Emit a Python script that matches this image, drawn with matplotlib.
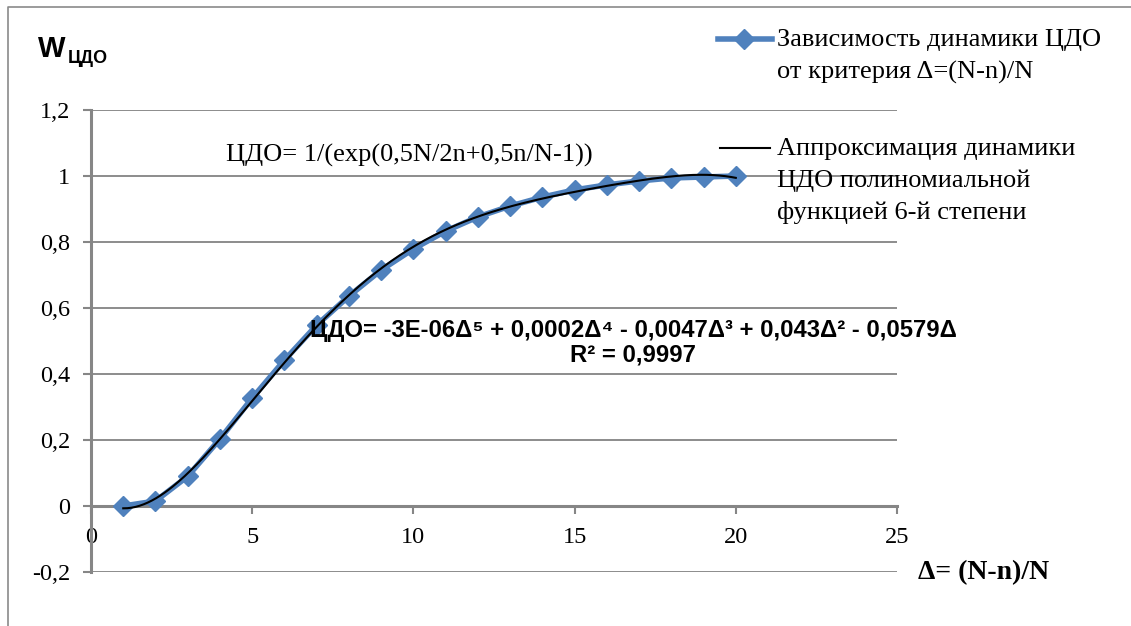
import numpy as np
import matplotlib
matplotlib.use("Agg")
import matplotlib.pyplot as plt
from matplotlib.lines import Line2D
from matplotlib.ticker import FuncFormatter

# ---- data ----
delta = [1, 2, 3, 4, 5, 6, 7, 8, 9, 10, 11, 12, 13, 14, 15, 16, 17, 18, 19, 20]
w_cdo = [0.0, 0.015, 0.09, 0.203, 0.327, 0.442, 0.548, 0.636, 0.715, 0.779,
         0.833, 0.876, 0.909, 0.936, 0.958, 0.973, 0.985, 0.994, 0.997, 1.0]
yticks = [-0.2, 0, 0.2, 0.4, 0.6, 0.8, 1.0, 1.2]
xticks = [0, 5, 10, 15, 20, 25]

legend1 = ["Зависимость динамики ЦДО", "от критерия Δ=(N-n)/N"]
legend2 = ["Аппроксимация динамики", "ЦДО полиномиальной", "функцией 6-й степени"]
formula = "ЦДО= 1/(exp(0,5N/2n+0,5n/N-1))"
equation = "ЦДО= -3E-06Δ⁵ + 0,0002Δ⁴ - 0,0047Δ³ + 0,043Δ² - 0,0579Δ"
r2 = "R² = 0,9997"

SERIF = ["Liberation Serif", "DejaVu Serif"]
SANS = ["Liberation Sans", "DejaVu Sans"]
BLUE = "#4F81BD"
GRID = "#8c8c8c"

W, H = 1131, 626
fig = plt.figure(figsize=(W / 100, H / 100), dpi=100)
ax = fig.add_axes([91 / W, 1 - 572 / H, (897 - 91) / W, (572 - 110) / H])

# trendline: polynomial fit (leading term Δ^5 as in the displayed equation)
coef = np.polyfit(delta, w_cdo, 5)
xf = np.linspace(min(delta), max(delta), 300)
yf = np.polyval(coef, xf)

ax.plot(delta, w_cdo, color=BLUE, lw=4, marker="D", ms=10, zorder=3)
ax.plot(xf, yf, color="black", lw=1.5, zorder=4)

ax.set_xlim(0, 25)
ax.set_ylim(-0.2, 1.2)
ax.set_xticks(xticks)
ax.set_yticks(yticks)

def fmt(v, pos):
    s = ("%.1f" % v).rstrip("0").rstrip(".")
    if s == "-0":
        s = "0"
    return s.replace(".", ",")

ax.yaxis.set_major_formatter(FuncFormatter(fmt))
ax.xaxis.set_major_formatter(FuncFormatter(fmt))

for s in ["top", "right"]:
    ax.spines[s].set_visible(False)
ax.spines["bottom"].set_position(("data", 0))
for s in ["left", "bottom"]:
    ax.spines[s].set_color("#868686")
    ax.spines[s].set_linewidth(2.2)

ax.grid(axis="y", color=GRID, lw=1.4)
ax.set_axisbelow(True)
ax.tick_params(axis="both", colors="#868686", width=1.5, length=6, direction="out")
ax.tick_params(axis="y", pad=9, labelcolor="black", labelsize=17.5)
ax.tick_params(axis="x", pad=9, labelcolor="black", labelsize=17.5)
for lab in ax.get_xticklabels() + ax.get_yticklabels():
    lab.set_fontfamily(SERIF)

def fx(px):
    return px / W

def fy(py):
    return 1 - py / H

# texts
fig.text(fx(226), fy(155), formula, family=SERIF, fontsize=19, va="center", ha="left")
fig.text(fx(633), fy(331), equation, family=SANS, fontsize=17.2, fontweight="bold",
         va="center", ha="center")
fig.text(fx(633), fy(355), r2, family=SANS, fontsize=17.2, fontweight="bold",
         va="center", ha="center")
fig.text(fx(918), fy(573), "Δ= (N-n)/N", family=SERIF, fontsize=20, fontweight="bold",
         va="center", ha="left")
fig.text(fx(38), fy(57), "W", family=SANS, fontsize=21, fontweight="bold",
         va="baseline", ha="left")
fig.text(fx(68), fy(63), "ЦДО", family=SANS, fontsize=13, fontweight="bold",
         va="baseline", ha="left")

# legend (manual)
fig.add_artist(Line2D([fx(718), fx(772)], [fy(39), fy(39)], color=BLUE, lw=4))
fig.add_artist(Line2D([fx(744)], [fy(39)], color=BLUE, marker="D", ms=10, lw=0))
fig.add_artist(Line2D([fx(720), fx(770)], [fy(148), fy(148)], color="black", lw=1.5))
for i, t in enumerate(legend1):
    fig.text(fx(777), fy(40 + 32 * i), t, family=SERIF, fontsize=19, va="center", ha="left")
for i, t in enumerate(legend2):
    fig.text(fx(777), fy(149 + 32 * i), t, family=SERIF, fontsize=19, va="center", ha="left")

# outer frame
fig.add_artist(Line2D([fx(8), fx(8), fx(W + 5)], [fy(H + 5), fy(7), fy(7)],
                      color="#8a8a8a", lw=1.2))

fig.savefig("out.png", dpi=100)
